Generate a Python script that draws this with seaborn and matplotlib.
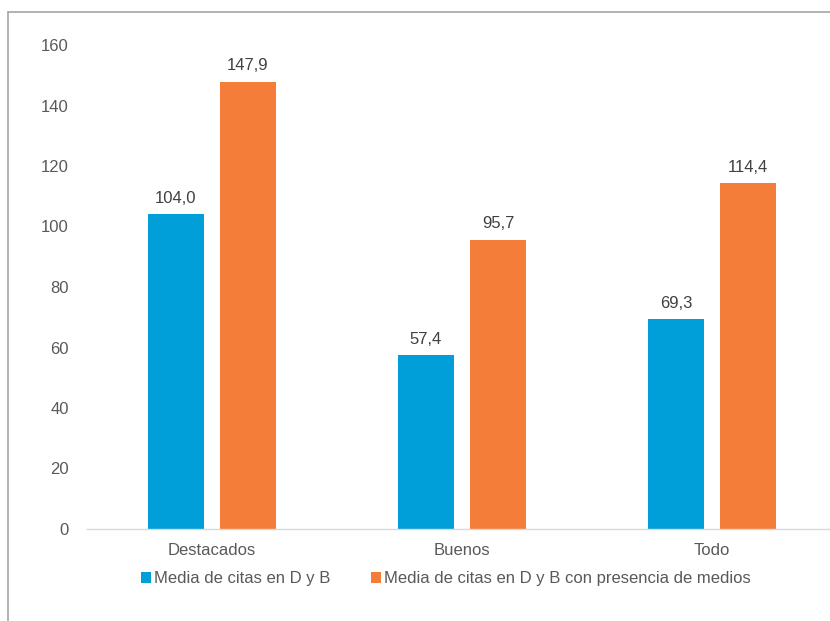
import matplotlib
matplotlib.use("Agg")
import matplotlib.pyplot as plt
import seaborn as sns
import pandas as pd
from matplotlib.lines import Line2D
from matplotlib.patches import Patch

categories = ["Destacados", "Buenos", "Todo"]
series_names = ["Media de citas en D y B", "Media de citas en D y B con presencia de medios"]
serie_1 = [104.0, 57.4, 69.3]
serie_2 = [147.9, 95.7, 114.4]
yticks = [0, 20, 40, 60, 80, 100, 120, 140, 160]
colors = ["#009FDA", "#F47E39"]

df = pd.DataFrame({
    "cat": categories * 2,
    "serie": [series_names[0]] * 3 + [series_names[1]] * 3,
    "val": serie_1 + serie_2,
})

sns.set_theme(style="white")
plt.rcParams["font.family"] = ["Liberation Sans", "DejaVu Sans"]
text_color = "#595959"
fs = 12

W, H = 830, 621
fig = plt.figure(figsize=(W / 100, H / 100), dpi=100)
left = 87 / W
bottom = (H - 529) / H
top = (H - 45) / H
ax = fig.add_axes([left, bottom, 750 / W, top - bottom])

sns.barplot(data=df, x="cat", y="val", hue="serie", order=categories,
            hue_order=series_names, palette=colors, width=0.576, gap=0.222,
            linewidth=0, saturation=1, ax=ax, legend=False)

ax.set_ylim(0, 160)
ax.set_xlim(-0.5, 2.5)
ax.set_yticks(yticks)
ax.set_yticklabels([str(t) for t in yticks], fontsize=fs, color=text_color)
ax.tick_params(axis="y", length=0, pad=13)
ax.tick_params(axis="x", length=0, pad=10, labelsize=fs, labelcolor=text_color)
ax.set_xlabel("")
ax.set_ylabel("")
for s in ["top", "right", "left"]:
    ax.spines[s].set_visible(False)
ax.spines["bottom"].set_color("#d9d9d9")
ax.spines["bottom"].set_linewidth(1)

for cont in ax.containers:
    labels = [f"{v:.1f}".replace(".", ",") for v in cont.datavalues]
    ax.bar_label(cont, labels=labels, padding=6, fontsize=fs, color="#404040")

handles = [Patch(facecolor=c, edgecolor="none") for c in colors]
fig.legend(handles, series_names, loc="center", bbox_to_anchor=(446 / W, (H - 579) / H),
           ncol=2, frameon=False, fontsize=fs, labelcolor=text_color,
           handlelength=0.6, handleheight=0.6, handletextpad=0.2, columnspacing=2.4)

# outer border (left and top visible)
fig.add_artist(Line2D([8 / W, 8 / W], [0, (H - 12) / H], transform=fig.transFigure,
                      color="#a6a6a6", linewidth=1.2))
fig.add_artist(Line2D([8 / W, 1.0], [(H - 12) / H, (H - 12) / H], transform=fig.transFigure,
                      color="#a6a6a6", linewidth=1.2))

fig.savefig("out.png", dpi=100, facecolor="white")
